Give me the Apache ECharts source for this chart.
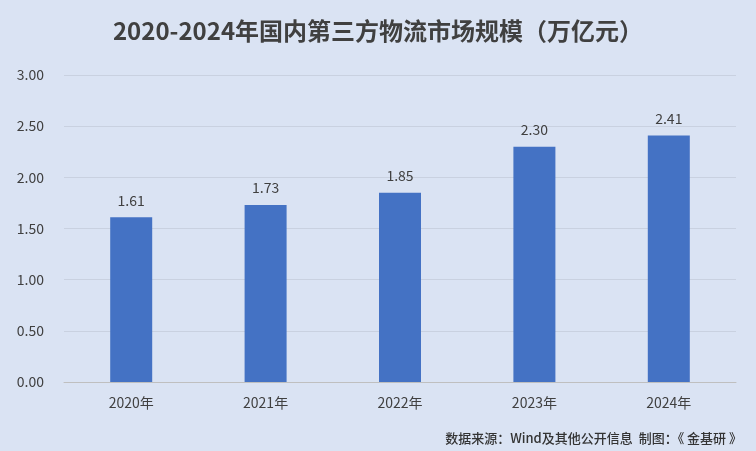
<!DOCTYPE html>
<html><head><meta charset="utf-8">
<script src="https://cdn.jsdelivr.net/npm/echarts@6/dist/echarts.min.js"></script>
<style>html,body{margin:0;padding:0;background:#DAE3F3;}#c{width:756px;height:451px;}</style>
</head><body><div id="c"></div>
<script>
const categories = ['2020年','2021年','2022年','2023年','2024年'];
const values = [1.61, 1.73, 1.85, 2.30, 2.41];
const titleText = '2020-2024年国内第三方物流市场规模（万亿元）';
const sourceText = '数据来源：Wind及其他公开信息  制图：《 金基研 》';
const font = '"Noto Sans CJK SC", "Microsoft YaHei", sans-serif';
const chart = echarts.init(document.getElementById('c'));
chart.setOption({
  backgroundColor: '#DAE3F3',
  animation: false,
  title: { text: titleText, left: 'center', top: 14,
    textStyle: { fontFamily: font, fontSize: 24, fontWeight: 'bold', color: '#404040' } },
  graphic: [{ type: 'text', right: 14, bottom: 6,
    style: { text: sourceText, font: '500 13px ' + font, fill: '#333333' } }],
  grid: { left: 64, right: 20, top: 75, bottom: 69 },
  xAxis: { type: 'category', data: categories,
    axisLine: { lineStyle: { color: '#BFBFBF' } }, axisTick: { show: false },
    axisLabel: { fontFamily: font, fontSize: 14, color: '#404040', margin: 14 } },
  yAxis: { type: 'value', min: 0, max: 3, interval: 0.5,
    axisLabel: { formatter: v => v.toFixed(2), fontFamily: font, fontSize: 14, color: '#404040', margin: 20 },
    splitLine: { lineStyle: { color: '#C9D1E0' } } },
  series: [{ type: 'bar', data: values, barWidth: 42,
    itemStyle: { color: '#4472C4' },
    label: { show: true, position: 'top', distance: 10, formatter: p => p.value.toFixed(2),
      fontFamily: font, fontSize: 14, color: '#404040' } }]
});
</script></body></html>
